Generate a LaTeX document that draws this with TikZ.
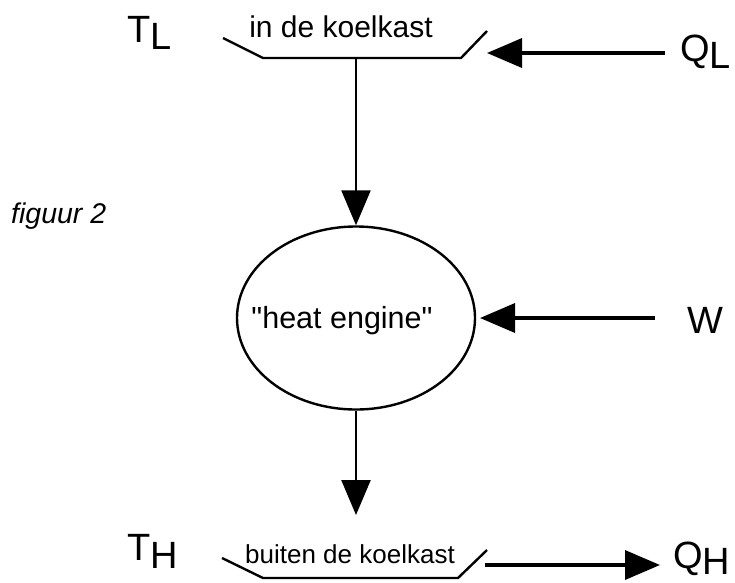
\documentclass[tikz,border=0pt]{standalone}
\usepackage{fontspec}
\setmainfont{Liberation Sans}[Ligatures=TeXOff]
\usetikzlibrary{arrows.meta,shapes.geometric}
\begin{document}
\begin{tikzpicture}[x=1pt,y=-1pt,
  tray/.style={line width=2.4pt,line join=miter},
  flow/.style={line width=3pt,-{Triangle[length=35pt,width=29pt]}},
  big/.style={font=\fontsize{38}{40}\selectfont,inner sep=0pt,anchor=base west},
  lab/.style={inner sep=0pt,anchor=base}]
\useasboundingbox[fill=white] (0,0) rectangle (735,582);
% trays
\coordinate (tl1) at (223,38);
\coordinate (tl2) at (263,58);
\coordinate (tl3) at (461,58);
\coordinate (tl4) at (487,31);
\coordinate (ttop) at (356,58);
\draw[tray] (tl1) -- (tl2) -- (tl3) -- (tl4);
\coordinate (bl1) at (222,558);
\coordinate (bl2) at (263,578);
\coordinate (bl3) at (458,578);
\coordinate (bl4) at (487,550);
\draw[tray] (bl1) -- (bl2) -- (bl3) -- (bl4);
% texts
\node[lab,font=\fontsize{30}{32}\selectfont] (intxt) at (341,37) {in de koelkast};
\node[lab,font=\fontsize{26}{28}\selectfont] (buitxt) at (350,563) {buiten de koelkast};
\node[big] (TL) at (127,42) {T\raisebox{-7pt}{L}};
\node[big] (TH) at (127,560) {T\raisebox{-8pt}{H}};
\node[big] (QL) at (680,61) {Q\raisebox{-7pt}{L}};
\node[big] (QH) at (673,568) {Q\raisebox{-6pt}{H}};
\node[big] (W) at (687,333) {W};
\node[inner sep=0pt,anchor=base west,font=\fontsize{28.5}{30}\selectfont\itshape] (fig) at (11,223) {figuur 2};
% engine
\node[draw,ellipse,line width=2.4pt,minimum width=238pt,minimum height=183pt,inner sep=0pt] (engine) at (356,318) {};
\node[lab,font=\fontsize{30.5}{32}\selectfont] (engtxt) at (342,328) {"heat engine"};
% arrows
\draw[flow,line width=2.4pt] (ttop) -- (engine.north);
\coordinate (eb) at (356,515);
\draw[flow,line width=2.4pt] (engine.south) -- (eb);
\coordinate (qls) at (665,53);
\coordinate (qle) at (487,53);
\draw[flow,line width=3.6pt] (qls) -- (qle);
\coordinate (ws) at (655,318);
\coordinate (we) at (480,318);
\draw[flow,line width=3.6pt] (ws) -- (we);
\coordinate (qhs) at (485,565);
\coordinate (qhe) at (660,565);
\draw[flow,line width=3.6pt] (qhs) -- (qhe);
\end{tikzpicture}
\end{document}
